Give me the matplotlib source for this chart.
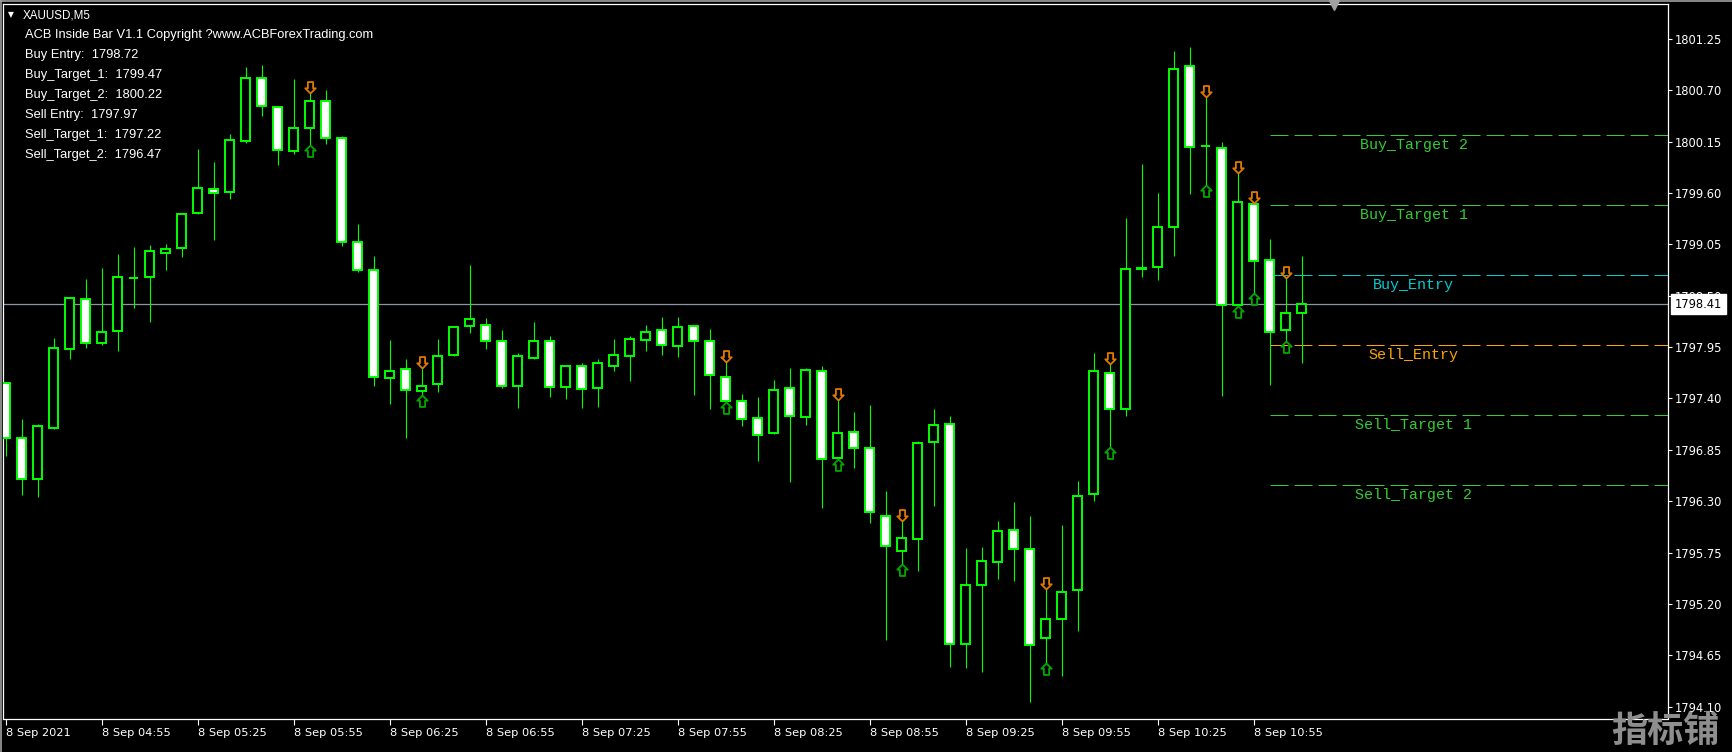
import numpy as np
import matplotlib
matplotlib.use("Agg")
import matplotlib.pyplot as plt
from matplotlib.path import Path
from matplotlib.lines import Line2D

# ---------------- data ----------------
symbol = "XAUUSD,M5"
indicator_title = "ACB Inside Bar V1.1 Copyright ?www.ACBForexTrading.com"

opens = [1797.57, 1796.98, 1796.54, 1797.08, 1797.93, 1798.46, 1797.99, 1798.12, 1798.69, 1798.70,
         1798.96, 1799.01, 1799.38, 1799.64, 1799.61, 1800.16, 1800.83, 1800.52, 1800.05, 1800.29,
         1800.58, 1800.19, 1799.07, 1798.77, 1797.62, 1797.71, 1797.48, 1797.55, 1797.86, 1798.18,
         1798.19, 1798.01, 1797.53, 1797.83, 1798.02, 1797.52, 1797.75, 1797.51, 1797.75, 1797.85,
         1798.03, 1798.13, 1797.96, 1798.18, 1798.02, 1797.63, 1797.37, 1797.19, 1797.03, 1797.51,
         1797.20, 1797.69, 1796.76, 1797.04, 1796.87, 1796.14, 1795.77, 1795.90, 1796.93, 1797.13,
         1794.77, 1795.40, 1795.65, 1795.99, 1795.79, 1794.83, 1795.04, 1795.35, 1796.38, 1797.67,
         1797.29, 1798.79, 1798.81, 1799.23, 1800.96, 1800.10, 1800.08, 1798.40, 1799.48, 1798.88,
         1798.13, 1798.31]
highs = [1797.58, 1797.18, 1797.13, 1798.05, 1798.48, 1798.68, 1798.80, 1798.95, 1799.02, 1799.04,
         1799.05, 1799.38, 1800.07, 1799.93, 1800.23, 1800.95, 1800.97, 1800.53, 1800.82, 1800.67,
         1800.70, 1800.21, 1799.27, 1798.92, 1798.03, 1797.82, 1797.73, 1798.04, 1798.18, 1798.83,
         1798.26, 1798.13, 1797.89, 1798.22, 1798.07, 1797.76, 1797.78, 1797.82, 1798.04, 1798.07,
         1798.19, 1798.27, 1798.27, 1798.19, 1798.14, 1797.79, 1797.45, 1797.42, 1797.60, 1797.73,
         1797.73, 1797.75, 1797.38, 1797.25, 1797.33, 1796.41, 1796.09, 1796.94, 1797.29, 1797.21,
         1795.80, 1795.81, 1796.09, 1796.29, 1796.14, 1795.36, 1796.05, 1796.52, 1797.89, 1797.77,
         1799.33, 1799.91, 1799.60, 1801.12, 1801.16, 1800.63, 1800.15, 1799.81, 1799.49, 1799.11,
         1798.69, 1798.93]
lows = [1796.78, 1796.37, 1796.35, 1797.07, 1797.82, 1797.94, 1797.97, 1797.91, 1798.37, 1798.22,
        1798.77, 1798.91, 1799.37, 1799.10, 1799.54, 1800.13, 1800.42, 1799.90, 1800.02, 1800.11,
        1800.12, 1799.03, 1798.75, 1797.53, 1797.34, 1796.98, 1797.44, 1797.47, 1797.85, 1798.10,
        1797.93, 1797.51, 1797.30, 1797.82, 1797.41, 1797.39, 1797.30, 1797.31, 1797.69, 1797.59,
        1797.91, 1797.87, 1797.84, 1797.44, 1797.29, 1797.36, 1797.11, 1796.73, 1797.02, 1796.51,
        1797.12, 1796.23, 1796.75, 1796.65, 1796.07, 1794.81, 1795.63, 1795.55, 1796.25, 1794.53,
        1794.51, 1794.47, 1795.47, 1795.45, 1794.15, 1794.57, 1794.43, 1794.91, 1796.30, 1796.88,
        1797.21, 1798.70, 1798.67, 1798.92, 1799.59, 1799.69, 1797.43, 1798.39, 1798.53, 1797.54,
        1798.02, 1797.78]
closes = [1796.98, 1796.54, 1797.10, 1797.94, 1798.47, 1797.99, 1798.11, 1798.70, 1798.69, 1798.98,
          1799.00, 1799.37, 1799.65, 1799.60, 1800.17, 1800.83, 1800.53, 1800.06, 1800.30, 1800.58,
          1800.19, 1799.07, 1798.77, 1797.63, 1797.69, 1797.49, 1797.53, 1797.85, 1798.16, 1798.25,
          1798.02, 1797.53, 1797.85, 1798.02, 1797.52, 1797.75, 1797.50, 1797.78, 1797.86, 1798.04,
          1798.11, 1797.97, 1798.17, 1798.02, 1797.65, 1797.37, 1797.18, 1797.01, 1797.49, 1797.21,
          1797.70, 1796.75, 1797.03, 1796.87, 1796.18, 1795.82, 1795.91, 1796.92, 1797.12, 1794.77,
          1795.40, 1795.66, 1795.98, 1795.79, 1794.76, 1795.04, 1795.33, 1796.36, 1797.69, 1797.29,
          1798.79, 1798.80, 1799.23, 1800.93, 1800.09, 1800.10, 1798.40, 1799.50, 1798.87, 1798.11,
          1798.31, 1798.41]

inside_bars = [19, 26, 45, 52, 56, 65, 69, 75, 77, 78, 80]

level_names = ["Buy_Target 2", "Buy_Target 1", "Buy_Entry",
               "Sell_Entry", "Sell_Target 1", "Sell_Target 2"]
level_values = [1800.22, 1799.47, 1798.72, 1797.97, 1797.22, 1796.47]
level_colors = ["#32CD32", "#32CD32", "#00CED1", "#FFA500", "#32CD32", "#32CD32"]
level_start_bar = 79
level_label_bar = 88

info_names = ["Buy Entry", "Buy_Target_1", "Buy_Target_2",
              "Sell Entry", "Sell_Target_1", "Sell_Target_2"]
info_values = [1798.72, 1799.47, 1800.22, 1797.97, 1797.22, 1796.47]

current_price = 1798.41

y_ticks = [1794.10, 1794.65, 1795.20, 1795.75, 1796.30, 1796.85, 1797.40,
           1797.95, 1798.50, 1799.05, 1799.60, 1800.15, 1800.70, 1801.25]
x_tick_bars = [0, 6, 12, 18, 24, 30, 36, 42, 48, 54, 60, 66, 72, 78]
x_tick_labels = ["8 Sep 2021", "8 Sep 04:55", "8 Sep 05:25", "8 Sep 05:55",
                 "8 Sep 06:25", "8 Sep 06:55", "8 Sep 07:25", "8 Sep 07:55",
                 "8 Sep 08:25", "8 Sep 08:55", "8 Sep 09:25", "8 Sep 09:55",
                 "8 Sep 10:25", "8 Sep 10:55"]
watermark = "指标铺"

# ---------------- styling ----------------
LIME = "#00FF00"
W, H = 1733, 752


def fx(px):
    return px / W


def fy(py):
    return 1 - py / H


fig = plt.figure(figsize=(W / 100, H / 100), dpi=100, facecolor="black")
ax = fig.add_axes([fx(3.3), fy(718.5), (1668 - 3.3) / W, (718.5 - 4) / H],
                  facecolor="black")
ax.set_xlim(-0.1375, 103.906)
ax.set_ylim(1793.9735, 1801.6226)

o = np.array(opens)
h = np.array(highs)
l = np.array(lows)
c = np.array(closes)
x = np.arange(len(o))
bull = c >= o

# current price line
ax.axhline(current_price, color="#8C95A3", lw=0.9, zorder=2)

# candles
ax.vlines(x, l, h, color=LIME, lw=0.8, zorder=3)
ax.bar(x, np.abs(c - o), bottom=np.minimum(o, c), width=0.54,
       color=np.where(bull, "black", "white"), edgecolor=LIME,
       linewidth=1.4, zorder=4)

# inside bar arrows
down_path = Path([(0, 0), (-5, 5), (-2.5, 5), (-2.5, 11), (2.5, 11), (2.5, 5), (5, 5), (0, 0)],
                 [Path.MOVETO] + [Path.LINETO] * 6 + [Path.CLOSEPOLY])
up_path = Path([(0, 0), (-5, -5), (-2.5, -5), (-2.5, -11), (2.5, -11), (2.5, -5), (5, -5), (0, 0)],
               [Path.MOVETO] + [Path.LINETO] * 6 + [Path.CLOSEPOLY])
ib = np.array(inside_bars)
ax.plot(ib, h[ib], ls="none", marker=down_path, ms=16.5, mfc="none",
        mec="#E07800", mew=1.3, zorder=6)
ax.plot(ib, l[ib], ls="none", marker=up_path, ms=16.5, mfc="none",
        mec="#00A800", mew=1.3, zorder=6)

# level lines
xmax = ax.get_xlim()[1]
for name, val, col in zip(level_names, level_values, level_colors):
    ax.plot([level_start_bar, xmax], [val, val], color=col, lw=0.72,
            dashes=(18, 6), zorder=2.5)
    ax.annotate(name, (level_label_bar, val), xytext=(0, -2),
                textcoords="offset points", ha="center", va="top",
                color=col, fontfamily="Liberation Mono", fontsize=10.8, zorder=5)

# axes styling
for s in ax.spines.values():
    s.set_color("white")
    s.set_linewidth(0.9)
ax.yaxis.tick_right()
ax.set_yticks(y_ticks)
ax.set_yticklabels([f"{v:.2f}" for v in y_ticks])
ax.tick_params(axis="y", colors="white", direction="out", length=3,
               width=0.8, pad=2, labelsize=8.3)
ax.set_xticks(x_tick_bars)
ax.set_xticklabels(x_tick_labels)
ax.tick_params(axis="x", colors="white", direction="out", length=4,
               width=0.8, pad=3, labelsize=8.2)
for lbl in ax.get_xticklabels():
    lbl.set_ha("left")

# current price box
ax.annotate(f"{current_price:.2f}", xy=(1.0, current_price),
            xycoords=("axes fraction", "data"), xytext=(5.0, 0),
            textcoords="offset points", ha="left", va="center",
            fontsize=8.3, color="black",
            bbox=dict(boxstyle="square,pad=0.3", fc="white", ec="white"),
            annotation_clip=False, zorder=10)

# top-left texts
fig.text(fx(8.0), fy(14.5), "▼", fontsize=5.5, color="white", va="center", ha="left")
fig.text(fx(22.7), fy(18.7), symbol, fontfamily="Liberation Sans",
         fontsize=8.4, color="white", va="baseline", ha="left")
fig.text(fx(25), fy(38.3), indicator_title, fontfamily="Liberation Sans",
         fontsize=9.3, color="white", va="baseline", ha="left")
for k, (nm, v) in enumerate(zip(info_names, info_values)):
    fig.text(fx(25), fy(58.3 + 20 * k), f"{nm}:  {v:.2f}",
             fontfamily="Liberation Sans", fontsize=9.3, color="white",
             va="baseline", ha="left")

# window frame and chart-shift marker
fig.add_artist(Line2D([0, 1], [fy(0.6), fy(0.6)], transform=fig.transFigure,
                      color="#A0A0A0", lw=1.2))
fig.add_artist(Line2D([fx(0.6), fx(0.6)], [0, 1], transform=fig.transFigure,
                      color="#A0A0A0", lw=1.2))
fig.add_artist(Line2D([fx(1334)], [fy(5)], transform=fig.transFigure,
                      marker="v", ms=7, color="#A0A0A0", ls="none"))

# watermark
fig.text(fx(1665), fy(731), watermark, fontfamily=["Noto Sans CJK SC"],
         fontweight="bold", fontsize=26, color="#8E8E8E", ha="center",
         va="center")

fig.savefig("out.png", dpi=100, facecolor="black")
